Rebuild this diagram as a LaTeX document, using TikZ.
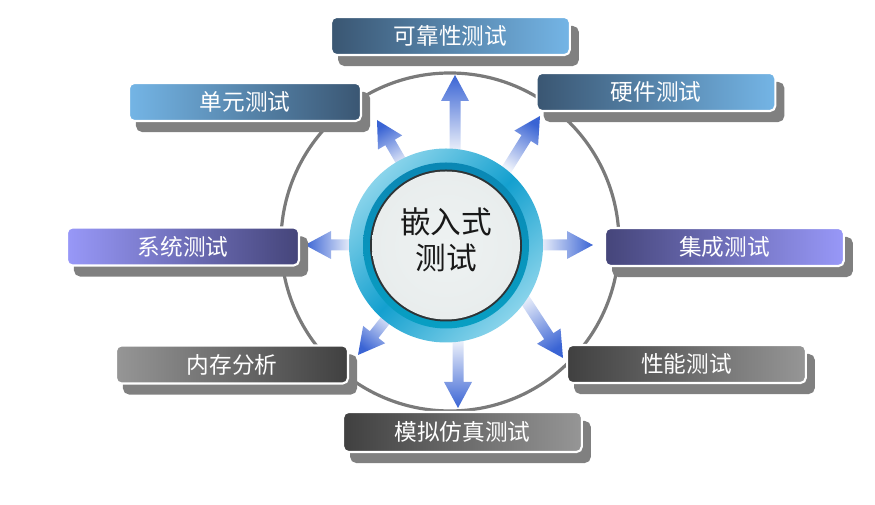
\documentclass[tikz,border=0pt]{standalone}
\usepackage{fontspec}
\newfontfamily\cjk{Noto Sans CJK SC}
\usetikzlibrary{shadows}

\definecolor{bluedark}{HTML}{3A5672}
\definecolor{bluelight}{HTML}{74B5E6}
\definecolor{purpledark}{HTML}{45457A}
\definecolor{purplelight}{HTML}{9898F8}
\definecolor{graydark}{HTML}{404040}
\definecolor{graylight}{HTML}{969696}
\definecolor{shadowgray}{HTML}{808080}
\definecolor{ringgray}{HTML}{7A7A7A}
\definecolor{arrowblue}{HTML}{3A64D4}
\definecolor{arrowpale}{HTML}{EEF2FB}
\definecolor{cyanlight}{HTML}{8AD4EB}
\definecolor{cyandark}{HTML}{14A0CF}
\definecolor{hubblue}{HTML}{0A87B4}
\definecolor{hubrim}{HTML}{2E3436}
\definecolor{discwhite}{HTML}{EEF2F2}
\definecolor{discgray}{HTML}{B4BCBC}

\pgfdeclareradialshading{hubdisc}{\pgfpoint{0bp}{0bp}}{color(0bp)=(discwhite); color(40bp)=(discwhite!85!discgray); color(47bp)=(discgray); color(50bp)=(discgray!80!black)}

\begin{document}
\begin{tikzpicture}[
    x=0.75pt, y=0.75pt,
    box/.style={rectangle, rounded corners=4pt, draw=white, line width=1.6pt,
        minimum width=179pt, minimum height=28.5pt, text=white,
        font=\cjk\fontsize{17}{17}\selectfont,
        general shadow={fill=shadowgray, draw=shadowgray, shadow xshift=6pt, shadow yshift=-7.5pt}},
    narrow/.style={minimum width=174pt},
    grad/.style 2 args={left color=#1, right color=#2},
    radial arrow/.style={top color=arrowpale, bottom color=arrowblue, shading angle=#1},
    hubtext/.style={align=center, text=black!90, font=\cjk\fontsize{23}{27}\selectfont}
]
\useasboundingbox (0,0) rectangle (875,505);

% Outer gray circle
\draw[ringgray, line width=2.4pt] (450,263) circle (169);

% Arrows out of the hub
\foreach \sx/\sy/\tx/\ty in {455/353/455/430, 505/333/540/389, 540/260/593/260, 520/213/563/147,
    458/165/458/97, 392/193/358/150, 352/260/305/260, 405/337/377/385}{
  \pgfmathsetmacro\ang{atan2(\ty-\sy,\tx-\sx)}
  \pgfmathsetmacro\len{veclen(\tx-\sx,\ty-\sy)}
  \pgfmathsetmacro\shang{\ang+90}
  \path[radial arrow=\shang, shift={(\sx,\sy)}, rotate=\ang]
    (0,-5.5) -- (\len-26,-5.5) -- (\len-26,-14) -- (\len,0)
    -- (\len-26,14) -- (\len-26,5.5) -- (0,5.5) -- cycle;
}

% Hub
\coordinate (hub) at (446,259.5);
\shade[top color=cyanlight, bottom color=cyanlight, middle color=cyandark, shading angle=45] (hub) circle (97);
\shade[top color=hubblue, bottom color=hubblue!80!cyan] (hub) circle (83);
\fill[hubrim] (hub) circle (76);
\shade[shading=hubdisc] (hub) circle (74);
\node[hubtext] (hublabel) at (446,265) {嵌入式\\测试};

% Test boxes
\node[box, grad={bluedark}{bluelight}] (reliab) at (450.5,469) {可靠性测试};
\node[box, grad={bluedark}{bluelight}] (hardware) at (656,413) {硬件测试};
\node[box, narrow, grad={bluelight}{bluedark}] (unit) at (245,403) {单元测试};
\node[box, narrow, grad={purplelight}{purpledark}] (system) at (183,258.5) {系统测试};
\node[box, grad={purpledark}{purplelight}] (integ) at (724.5,258) {集成测试};
\node[box, narrow, grad={graylight}{graydark}] (memory) at (232,140.5) {内存分析};
\node[box, grad={graydark}{graylight}] (perf) at (686.5,141) {性能测试};
\node[box, minimum height=30pt, grad={graydark}{graylight}] (simul) at (462.5,73) {模拟仿真测试};

\end{tikzpicture}
\end{document}
